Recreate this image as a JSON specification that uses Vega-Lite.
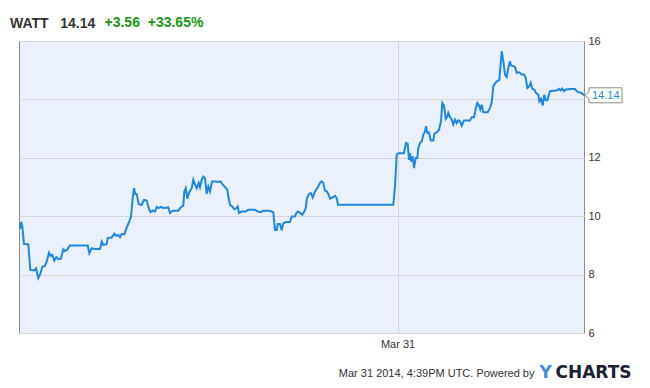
{
  "$schema": "https://vega.github.io/schema/vega-lite/v6.json",
  "width": 565,
  "height": 292,
  "autosize": {"type": "none"},
  "padding": {"left": 19, "top": 41, "right": 66, "bottom": 55},
  "background": "white",
  "config": {
    "view": {"fill": "#eaf1fc", "stroke": "#8c8c8c", "strokeWidth": 1},
    "font": "Liberation Sans"
  },
  "title": {
    "text": "WATT\u00a0\u00a0\u00a014.14",
    "anchor": "start",
    "frame": "group",
    "orient": "top",
    "dx": -9,
    "dy": 42,
    "offset": 15,
    "baseline": "alphabetic",
    "font": "Liberation Sans",
    "fontSize": 14,
    "fontWeight": "bold",
    "color": "#333333"
  },
  "data": {
    "values": [
      {"t": 0.5, "v": 9.56}, {"t": 1.8, "v": 9.80}, {"t": 2.8, "v": 9.65}, {"t": 4.5, "v": 9.05},
      {"t": 8.8, "v": 9.04}, {"t": 10.8, "v": 8.16}, {"t": 14.8, "v": 8.14}, {"t": 16.5, "v": 8.21},
      {"t": 18.8, "v": 7.88}, {"t": 20.8, "v": 8.02}, {"t": 22.8, "v": 8.27}, {"t": 25.5, "v": 8.30},
      {"t": 27.5, "v": 8.48}, {"t": 29.5, "v": 8.75}, {"t": 31.2, "v": 8.64}, {"t": 32.8, "v": 8.68},
      {"t": 34.8, "v": 8.48}, {"t": 36.8, "v": 8.60}, {"t": 38.8, "v": 8.53}, {"t": 41.5, "v": 8.55},
      {"t": 43.8, "v": 8.87}, {"t": 45.5, "v": 8.81}, {"t": 47.8, "v": 8.85}, {"t": 50.2, "v": 9.00},
      {"t": 68.2, "v": 9.00}, {"t": 69.8, "v": 8.73}, {"t": 72.2, "v": 8.90}, {"t": 75.5, "v": 8.88},
      {"t": 80.5, "v": 8.88}, {"t": 82.2, "v": 9.13}, {"t": 83.8, "v": 9.02}, {"t": 87.2, "v": 9.04},
      {"t": 88.2, "v": 9.25}, {"t": 92.2, "v": 9.27}, {"t": 94.8, "v": 9.40}, {"t": 96.5, "v": 9.33},
      {"t": 98.8, "v": 9.36}, {"t": 100.5, "v": 9.28}, {"t": 102.2, "v": 9.39}, {"t": 104.8, "v": 9.38},
      {"t": 107.2, "v": 9.61}, {"t": 109.8, "v": 9.82}, {"t": 111.5, "v": 9.99}, {"t": 113.2, "v": 10.62},
      {"t": 114.5, "v": 10.96}, {"t": 115.8, "v": 10.76}, {"t": 117.2, "v": 10.76}, {"t": 119.2, "v": 10.41},
      {"t": 122.2, "v": 10.39}, {"t": 124.5, "v": 10.56}, {"t": 127.2, "v": 10.53}, {"t": 129.8, "v": 10.22},
      {"t": 131.2, "v": 10.14}, {"t": 133.2, "v": 10.19}, {"t": 135.5, "v": 10.16}, {"t": 137.2, "v": 10.32},
      {"t": 139.2, "v": 10.28}, {"t": 141.2, "v": 10.32}, {"t": 143.8, "v": 10.28}, {"t": 148.8, "v": 10.30},
      {"t": 150.5, "v": 10.11}, {"t": 153.2, "v": 10.19}, {"t": 158.8, "v": 10.19}, {"t": 161.2, "v": 10.30},
      {"t": 163.8, "v": 10.37}, {"t": 164.8, "v": 10.85}, {"t": 166.2, "v": 10.96}, {"t": 167.8, "v": 10.60},
      {"t": 169.8, "v": 10.83}, {"t": 172.2, "v": 10.96}, {"t": 173.8, "v": 11.25}, {"t": 175.5, "v": 11.08},
      {"t": 177.2, "v": 10.96}, {"t": 179.2, "v": 11.14}, {"t": 180.5, "v": 10.99}, {"t": 182.2, "v": 11.25},
      {"t": 183.8, "v": 11.36}, {"t": 185.5, "v": 11.31}, {"t": 187.2, "v": 10.76}, {"t": 188.8, "v": 11.02},
      {"t": 190.5, "v": 10.85}, {"t": 192.5, "v": 11.19}, {"t": 196.5, "v": 11.19}, {"t": 198.8, "v": 11.17},
      {"t": 201.2, "v": 11.19}, {"t": 203.2, "v": 11.08}, {"t": 205.5, "v": 11.00}, {"t": 207.8, "v": 10.91},
      {"t": 208.8, "v": 10.68}, {"t": 210.5, "v": 10.39}, {"t": 212.8, "v": 10.33}, {"t": 214.8, "v": 10.24},
      {"t": 217.2, "v": 10.28}, {"t": 218.2, "v": 10.33}, {"t": 219.5, "v": 10.11}, {"t": 222.2, "v": 10.16},
      {"t": 226.2, "v": 10.16}, {"t": 228.8, "v": 10.22}, {"t": 235.5, "v": 10.22}, {"t": 238.2, "v": 10.16},
      {"t": 241.5, "v": 10.14}, {"t": 243.8, "v": 10.19}, {"t": 249.5, "v": 10.19}, {"t": 252.2, "v": 10.16},
      {"t": 253.8, "v": 10.13}, {"t": 255.5, "v": 9.53}, {"t": 257.2, "v": 9.53}, {"t": 258.2, "v": 9.73},
      {"t": 260.5, "v": 9.73}, {"t": 262.2, "v": 9.52}, {"t": 263.8, "v": 9.76}, {"t": 266.5, "v": 9.80},
      {"t": 270.5, "v": 9.80}, {"t": 272.2, "v": 9.99}, {"t": 275.5, "v": 9.99}, {"t": 277.2, "v": 10.13},
      {"t": 278.8, "v": 10.16}, {"t": 280.5, "v": 10.11}, {"t": 282.8, "v": 10.05}, {"t": 284.8, "v": 10.16},
      {"t": 286.2, "v": 10.28}, {"t": 287.5, "v": 10.62}, {"t": 289.5, "v": 10.76}, {"t": 291.5, "v": 10.79},
      {"t": 293.2, "v": 10.64}, {"t": 295.5, "v": 10.85}, {"t": 298.2, "v": 10.98}, {"t": 300.5, "v": 11.14},
      {"t": 302.2, "v": 11.19}, {"t": 303.8, "v": 11.14}, {"t": 305.5, "v": 10.87}, {"t": 307.2, "v": 10.85},
      {"t": 308.8, "v": 10.76}, {"t": 310.5, "v": 10.60}, {"t": 312.8, "v": 10.64}, {"t": 315.5, "v": 10.70},
      {"t": 317.2, "v": 10.62}, {"t": 318.5, "v": 10.39}, {"t": 373.8, "v": 10.39}, {"t": 375.5, "v": 11.02},
      {"t": 377.2, "v": 12.11}, {"t": 378.8, "v": 12.16}, {"t": 384.5, "v": 12.16}, {"t": 386.5, "v": 12.51},
      {"t": 388.2, "v": 12.48}, {"t": 389.5, "v": 11.93}, {"t": 390.5, "v": 12.16}, {"t": 391.5, "v": 11.88},
      {"t": 393.2, "v": 12.05}, {"t": 394.5, "v": 11.65}, {"t": 396.2, "v": 11.99}, {"t": 397.8, "v": 11.99},
      {"t": 398.8, "v": 12.34}, {"t": 400.5, "v": 12.51}, {"t": 402.2, "v": 12.56}, {"t": 403.8, "v": 12.79},
      {"t": 405.5, "v": 12.91}, {"t": 406.5, "v": 13.08}, {"t": 407.8, "v": 12.85}, {"t": 409.5, "v": 12.87},
      {"t": 411.2, "v": 12.59}, {"t": 413.8, "v": 12.59}, {"t": 414.8, "v": 12.83}, {"t": 417.2, "v": 12.87},
      {"t": 419.5, "v": 12.96}, {"t": 421.5, "v": 13.25}, {"t": 422.8, "v": 13.88}, {"t": 424.5, "v": 13.79},
      {"t": 426.2, "v": 13.33}, {"t": 427.8, "v": 13.40}, {"t": 428.8, "v": 13.54}, {"t": 430.5, "v": 13.40},
      {"t": 432.2, "v": 13.31}, {"t": 433.8, "v": 13.14}, {"t": 435.5, "v": 13.31}, {"t": 437.2, "v": 13.19},
      {"t": 438.8, "v": 13.28}, {"t": 440.5, "v": 13.25}, {"t": 442.2, "v": 13.10}, {"t": 444.5, "v": 13.28},
      {"t": 450.5, "v": 13.28}, {"t": 452.2, "v": 13.39}, {"t": 454.5, "v": 13.39}, {"t": 456.2, "v": 13.67},
      {"t": 457.8, "v": 13.88}, {"t": 459.5, "v": 13.79}, {"t": 460.8, "v": 13.65}, {"t": 462.2, "v": 13.82},
      {"t": 463.8, "v": 13.56}, {"t": 468.2, "v": 13.56}, {"t": 470.5, "v": 13.71}, {"t": 472.2, "v": 13.90},
      {"t": 473.8, "v": 14.45}, {"t": 475.5, "v": 14.54}, {"t": 477.2, "v": 14.62}, {"t": 479.8, "v": 14.66},
      {"t": 482.2, "v": 15.65}, {"t": 483.8, "v": 15.31}, {"t": 485.5, "v": 14.85}, {"t": 487.2, "v": 14.77},
      {"t": 488.8, "v": 15.08}, {"t": 490.5, "v": 15.31}, {"t": 491.5, "v": 15.16}, {"t": 493.8, "v": 15.14},
      {"t": 495.5, "v": 15.11}, {"t": 497.2, "v": 14.91}, {"t": 499.8, "v": 14.93}, {"t": 502.2, "v": 14.85},
      {"t": 504.5, "v": 14.85}, {"t": 506.2, "v": 14.74}, {"t": 507.8, "v": 14.39}, {"t": 509.8, "v": 14.45},
      {"t": 511.2, "v": 14.57}, {"t": 512.8, "v": 14.36}, {"t": 514.8, "v": 14.34}, {"t": 516.5, "v": 14.22},
      {"t": 518.8, "v": 14.16}, {"t": 519.8, "v": 13.93}, {"t": 521.5, "v": 14.02}, {"t": 523.2, "v": 13.79},
      {"t": 524.8, "v": 14.16}, {"t": 526.2, "v": 13.97}, {"t": 527.8, "v": 13.97}, {"t": 530.5, "v": 14.28},
      {"t": 534.5, "v": 14.30}, {"t": 537.8, "v": 14.31}, {"t": 539.5, "v": 14.36}, {"t": 541.2, "v": 14.31},
      {"t": 542.8, "v": 14.37}, {"t": 544.5, "v": 14.28}, {"t": 546.5, "v": 14.34}, {"t": 550.5, "v": 14.36},
      {"t": 555.5, "v": 14.36}, {"t": 557.2, "v": 14.28}, {"t": 559.8, "v": 14.24}, {"t": 562.2, "v": 14.22},
      {"t": 564.5, "v": 14.14}
    ]
  },
  "resolve": {"axis": {"x": "independent", "y": "independent"}},
  "layer": [
    {
      "mark": {"type": "line", "color": "#1c88e4", "strokeWidth": 2, "interpolate": "linear"},
      "encoding": {
        "x": {
          "field": "t", "type": "quantitative",
          "scale": {"domain": [-0.5, 564.5], "nice": false, "zero": false},
          "axis": {
            "orient": "bottom", "values": [378], "labelExpr": "'Mar 31'",
            "grid": true, "gridColor": "#d6d6d6", "ticks": false, "domain": false,
            "labelPadding": 5, "labelFontSize": 11, "labelColor": "#333333", "labelFont": "Liberation Sans",
            "title": "Mar 31 2014, 4:39PM UTC. Powered by",
            "titleX": 515, "titleY": 43, "titleAlign": "right", "titleAnchor": null, "titleBaseline": "alphabetic",
            "titleFont": "Liberation Sans", "titleFontSize": 11, "titleFontWeight": "normal", "titleColor": "#333333"
          }
        },
        "y": {
          "field": "v", "type": "quantitative",
          "scale": {"domain": [6, 16], "nice": false, "zero": false},
          "axis": {
            "orient": "right", "values": [6, 8, 10, 12, 14, 16],
            "grid": true, "gridColor": "#d6d6d6", "ticks": false, "domain": false,
            "labelPadding": 4, "labelFontSize": 11, "labelColor": "#333333", "labelFont": "Liberation Sans",
            "title": "CHARTS",
            "titleX": -29, "titleY": 336, "titleAngle": 0, "titleAlign": "left", "titleBaseline": "alphabetic",
            "titleFont": "DejaVu Sans", "titleFontSize": 17, "titleFontWeight": "bold", "titleColor": "#1b2233"
          }
        }
      }
    },
    {
      "transform": [{"filter": "datum.t >= 564"}],
      "mark": {
        "type": "point", "filled": true, "fill": "white", "stroke": "#8c8c8c", "strokeWidth": 1, "opacity": 1,
        "shape": "M0.1,0 L0.5,-0.35 L0.5,-0.75 L3.8,-0.75 L3.8,0.75 L0.5,0.75 L0.5,0.35 Z",
        "size": 400
      },
      "encoding": {
        "x": {
          "field": "t", "type": "quantitative",
          "axis": {
            "orient": "top", "labels": false, "ticks": false, "domain": false, "grid": false,
            "title": "+3.56\u00a0\u00a0+33.65%",
            "titleX": 85, "titleY": -15, "titleAlign": "left", "titleAnchor": null, "titleBaseline": "alphabetic",
            "titleFont": "Liberation Sans", "titleFontSize": 14, "titleFontWeight": "bold", "titleColor": "#159a15"
          }
        },
        "y": {
          "field": "v", "type": "quantitative",
          "axis": {
            "orient": "left", "labels": false, "ticks": false, "domain": false, "grid": false,
            "title": "Y",
            "titleX": 520, "titleY": 336, "titleAngle": 0, "titleAlign": "left", "titleBaseline": "alphabetic",
            "titleFont": "DejaVu Sans", "titleFontSize": 17, "titleFontWeight": "bold", "titleColor": "#3d8fe0"
          }
        }
      }
    },
    {
      "transform": [{"filter": "datum.t >= 564"}],
      "mark": {"type": "text", "align": "left", "baseline": "middle", "dx": 8, "dy": 1, "fontSize": 11, "font": "Liberation Sans", "color": "#1c88e4"},
      "encoding": {
        "x": {"field": "t", "type": "quantitative", "axis": null},
        "y": {"field": "v", "type": "quantitative", "axis": null},
        "text": {"field": "v", "type": "quantitative", "format": ".2f"}
      }
    }
  ]
}
